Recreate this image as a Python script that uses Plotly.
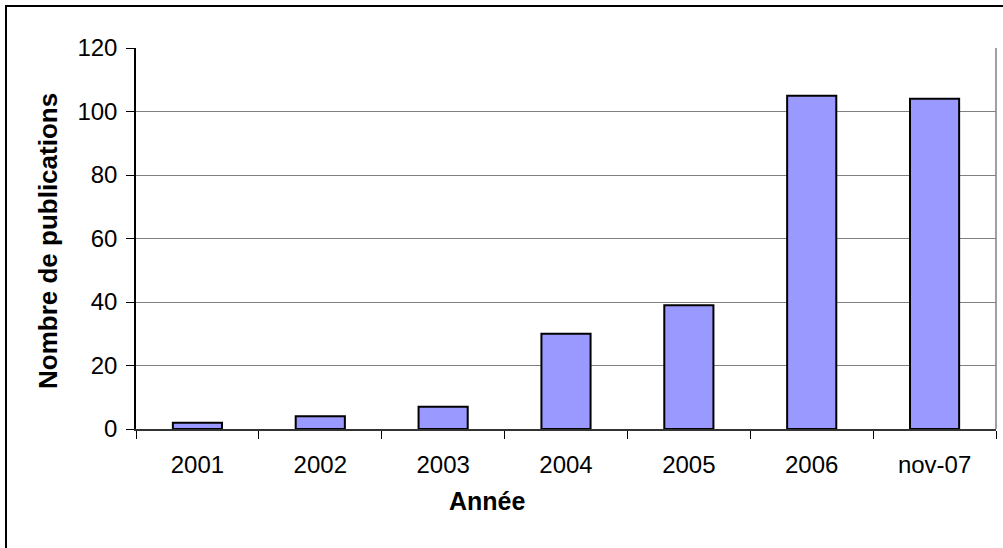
import plotly.graph_objects as go

categories = ["2001", "2002", "2003", "2004", "2005", "2006", "nov-07"]
publications = [2, 4, 7, 30, 39, 105, 104]
y_ticks = [0, 20, 40, 60, 80, 100, 120]

W, H = 1003, 548
L, R, T, B = 136, 996, 48, 429

def px(x):
    return (x - L) / (R - L)

def py(y):
    return (B - y) / (B - T)

fig = go.Figure()
fig.add_trace(go.Bar(
    x=categories, y=publications,
    marker=dict(color="#9999FF", line=dict(color="black", width=2)),
))

font = "Liberation Sans, Arial, sans-serif"
fig.update_layout(
    width=W, height=H,
    margin=dict(l=L, r=W - R, t=T, b=H - B, pad=0),
    paper_bgcolor="white", plot_bgcolor="white",
    bargap=0.6, showlegend=False,
    font=dict(family=font, size=24, color="black"),
    xaxis=dict(
        type="category", tickson="boundaries", ticks="outside", ticklen=8,
        tickcolor="black", showline=True, linecolor="#333333", linewidth=1.5,
        showgrid=False, tickfont=dict(size=24), ticklabelstandoff=13,
    ),
    yaxis=dict(
        range=[0, 120], tickvals=y_ticks, ticks="outside", ticklen=8,
        tickcolor="black", showline=True, linecolor="black", linewidth=1.5,
        showgrid=True, gridcolor="#808080", gridwidth=1, zeroline=False,
        tickfont=dict(size=24), ticklabelstandoff=4,
    ),
    annotations=[
        dict(text="<b>Année</b>", xref="paper", yref="paper",
             x=px(487), y=py(501), xanchor="center", yanchor="middle",
             showarrow=False, font=dict(size=25, family=font)),
        dict(text="<b>Nombre de publications</b>", xref="paper", yref="paper",
             x=px(48), y=py(241), xanchor="center", yanchor="middle",
             textangle=-90, showarrow=False, font=dict(size=26, family=font)),
    ],
    shapes=[
        dict(type="line", xref="paper", yref="paper", x0=1, x1=1, y0=0, y1=1,
             line=dict(color="#808080", width=1.5)),
        dict(type="rect", xref="paper", yref="paper",
             x0=px(6), x1=px(1030), y0=py(6), y1=py(580),
             line=dict(color="black", width=2)),
    ],
)

fig.write_html("out.html", config={"displayModeBar": False},
               post_script="document.body.style.margin='0';document.body.style.overflow='hidden';")
